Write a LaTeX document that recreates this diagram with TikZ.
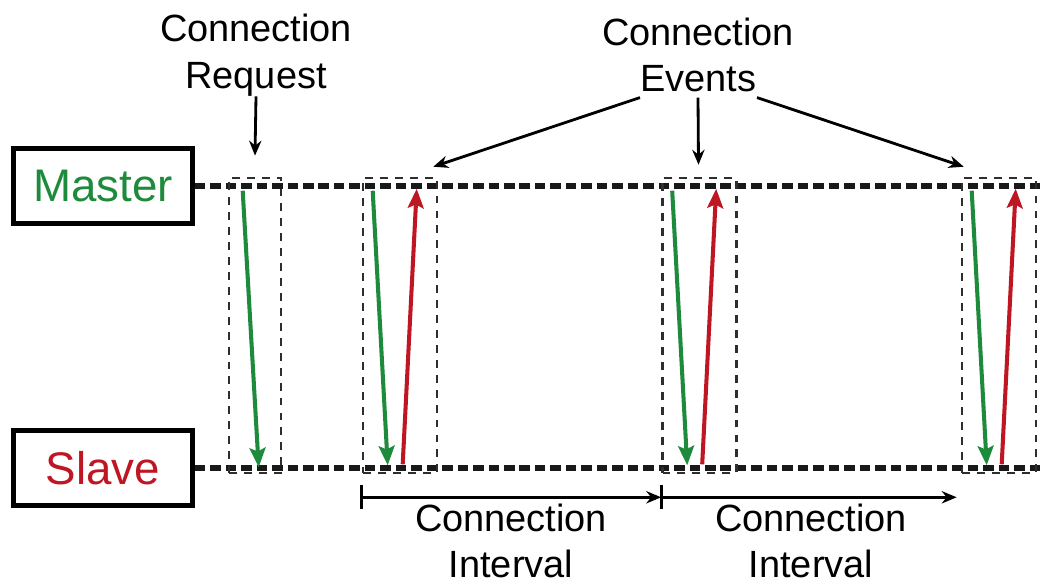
\documentclass[tikz,border=0pt]{standalone}
\usepackage{fontspec}
\setmainfont{Liberation Sans}
\usepackage{xcolor}
\usetikzlibrary{positioning,arrows.meta,calc}
\definecolor{master}{HTML}{1E8B3C}
\definecolor{slave}{HTML}{BE1622}
\definecolor{frame}{HTML}{2E2E2E}

\begin{document}
\begin{tikzpicture}[x=0.02cm, y=-0.02cm,
  rolebox/.style={draw, line width=2.6pt, minimum width=3.58cm, minimum height=1.5cm, font=\fontsize{26}{30}\selectfont},
  note/.style={font=\fontsize{21.6}{26.5}\selectfont, align=center, inner sep=0pt},
  bus/.style={line width=3pt, dash pattern=on 6pt off 2.8pt, black!90},
  evbox/.style={draw=frame, line width=1.5pt, dash pattern=on 4.5pt off 4pt, minimum width=1.48cm, minimum height=5.9cm, inner sep=0pt},
  pointer/.style={-{Stealth[length=8.5pt, width=7pt]}, line width=1.6pt},
  msg/.style={-{Stealth[length=11pt, width=9pt, inset=2pt]}, line width=2.3pt}]
\useasboundingbox (0,0) rectangle (1040,585);
% master and slave timelines
\node[rolebox, text=master] (mst) at (103,186) {Master};
\node[rolebox, text=slave] (slv) at (103,468) {Slave};
\coordinate (mstend) at (1040,186);
\coordinate (slvend) at (1040,468);
\draw[bus] (mst.east) -- (mstend);
\draw[bus] (slv.east) -- (slvend);
% connection request
\node[evbox, minimum width=1.04cm] (ev1) at (255,325.5) {};
\draw[msg, master] ($(ev1.north west)+(15,14)$) -- ($(ev1.south west)+(31,-7)$);
% connection events
\foreach \n/\x in {2/400, 3/699.5, 4/999} {
  \node[evbox] (ev\n) at (\x,325.5) {};
  \draw[msg, master] ($(ev\n.north west)+(11,14)$) -- ($(ev\n.south west)+(26,-9)$);
  \draw[msg, slave] ($(ev\n.south west)+(41,-10)$) -- ($(ev\n.north west)+(55,12)$);
}
% labels on top
\node[note] (req) at (256,55) {Connection\\Request};
\node[note] (evt) at (698,55) {Connection\\Events};
\draw[pointer] (req.south) -- ([yshift=12pt]ev1.north);
\draw[pointer] ($(evt.south)+(-58,5)$) -- ($(ev2.north east)+(-5,-10)$);
\draw[pointer] ($(evt.south)+(0,5)$) -- ($(ev3.north)+(-1,-12)$);
\draw[pointer] ($(evt.south)+(59,5)$) -- ($(ev4.north west)+(3,-10)$);
% connection intervals
\coordinate (t1) at ($(ev2.south west)+(0,23)$);
\coordinate (t2) at ($(ev3.south west)+(0,23)$);
\coordinate (t3) at ($(ev4.south west)+(-4,23)$);
\foreach \t in {t1, t2}
  \draw[line width=1.6pt] ($(\t)+(0,-12)$) -- ($(\t)+(0,12)$);
\draw[pointer] (t1) -- (t2);
\draw[pointer] (t2) -- (t3);
\node[note] (int1) at (511,541) {Connection\\Interval};
\node[note] (int2) at (811,541) {Connection\\Interval};
\end{tikzpicture}
\end{document}
